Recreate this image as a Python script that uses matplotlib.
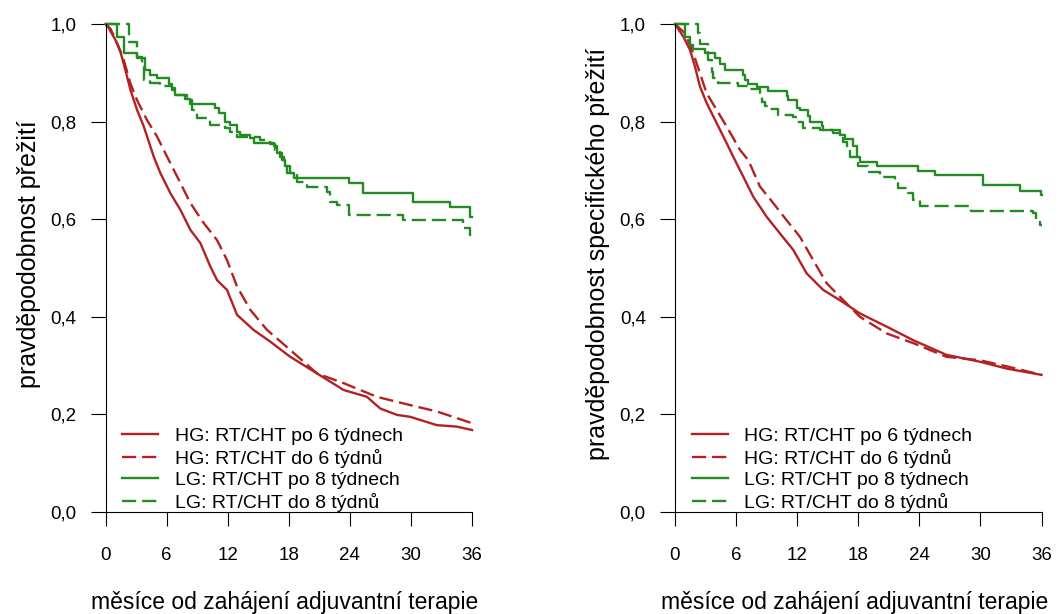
import numpy as np
import matplotlib.pyplot as plt

plt.rcParams['font.family'] = ['Liberation Sans', 'DejaVu Sans']

# months / survival
# left panel: overall survival
os_hg_po_t = [0, 0.16, 0.98, 1.47, 1.96, 2.45, 3.1, 3.76, 4.74, 5.4, 6.38, 7.36, 8.34, 9.32,
              10.3, 10.96, 11.94, 12.92, 14.55, 16.19, 18.15, 20.77, 23.39, 25.68, 26.99,
              28.63, 29.94, 32.55, 34.5, 36]
os_hg_po_s = [1, 0.998, 0.967, 0.943, 0.905, 0.865, 0.824, 0.79, 0.728, 0.694, 0.653, 0.619,
              0.578, 0.551, 0.503, 0.475, 0.455, 0.404, 0.373, 0.349, 0.318, 0.284, 0.25,
              0.236, 0.212, 0.199, 0.195, 0.178, 0.175, 0.168]
os_hg_do_t = [0, 0.5, 1.3, 1.8, 2.45, 3.1, 4.08, 5.07, 6.05, 7.36, 8.34, 9.65, 10.96, 11.94,
              12.92, 14.23, 15.87, 18.15, 20.77, 23.39, 26.66, 29.94, 32.55, 36]
os_hg_do_s = [1, 0.99, 0.953, 0.926, 0.878, 0.844, 0.803, 0.769, 0.728, 0.674, 0.633, 0.592,
              0.557, 0.516, 0.462, 0.414, 0.373, 0.332, 0.284, 0.264, 0.236, 0.219, 0.206,
              0.182]
os_lg_po_t = [0, 1.14, 1.8, 3.11, 3.92, 4.41, 5.07, 6.21, 6.54, 6.87, 7.85, 8.34, 10.79,
              11.12, 11.77, 12.26, 12.92, 13.24, 14.22, 14.55, 16.51, 16.84, 17.33, 17.66,
              17.82, 18.48, 23.87, 25.34, 30.25, 33.85, 35.81, 36]
os_lg_po_s = [1, 0.974, 0.94, 0.93, 0.906, 0.895, 0.889, 0.878, 0.868, 0.854, 0.846, 0.837,
              0.827, 0.817, 0.8, 0.793, 0.779, 0.773, 0.766, 0.757, 0.749, 0.735, 0.721,
              0.708, 0.694, 0.685, 0.675, 0.654, 0.636, 0.624, 0.605, 0.605]
os_lg_do_t = [0, 2.29, 3.11, 3.6, 3.76, 4.41, 5.4, 6.54, 6.7, 8.01, 8.5, 8.99, 10.3, 11.77,
              12.26, 12.92, 15.21, 16.19, 16.68, 17.17, 17.5, 18.15, 18.8, 19.78, 21.75,
              22.07, 22.73, 23.87, 29.27, 35.15, 35.81, 36]
os_lg_do_s = [1, 0.964, 0.933, 0.913, 0.885, 0.88, 0.872, 0.865, 0.855, 0.844, 0.824, 0.807,
              0.793, 0.786, 0.779, 0.769, 0.762, 0.755, 0.742, 0.728, 0.708, 0.694, 0.677,
              0.667, 0.656, 0.636, 0.629, 0.609, 0.598, 0.581, 0.568, 0.568]

# right panel: cancer specific survival
css_hg_po_t = [0, 0.82, 1.47, 1.96, 2.45, 3.11, 4.09, 5.07, 5.72, 6.71, 7.69, 9.0, 10.3,
               11.62, 12.93, 14.56, 16.2, 18.16, 20.78, 23.4, 26.67, 29.94, 32.56, 36]
css_hg_po_s = [1, 0.974, 0.947, 0.913, 0.872, 0.838, 0.797, 0.756, 0.728, 0.687, 0.646,
               0.605, 0.571, 0.537, 0.489, 0.455, 0.434, 0.407, 0.38, 0.352, 0.322, 0.308,
               0.294, 0.281]
css_hg_do_t = [0, 0.98, 1.8, 2.45, 3.11, 4.09, 5.07, 6.38, 7.2, 8.34, 9.65, 10.96, 12.27,
               13.58, 14.89, 16.2, 18.16, 20.78, 23.4, 26.67, 29.94, 32.89, 36]
css_hg_do_s = [1, 0.981, 0.94, 0.899, 0.858, 0.824, 0.79, 0.742, 0.721, 0.667, 0.633, 0.598,
               0.564, 0.516, 0.469, 0.441, 0.4, 0.366, 0.346, 0.318, 0.311, 0.297, 0.281]
css_lg_po_t = [0, 0.98, 1.47, 1.8, 2.95, 3.93, 4.42, 4.91, 6.71, 6.87, 7.2, 8.02, 9.16, 10.96,
               11.13, 11.94, 12.27, 13.09, 13.25, 14.4, 14.56, 16.2, 16.69, 17.51, 17.83,
               18.16, 19.8, 23.89, 25.52, 30.27, 33.87, 35.99, 36]
css_lg_po_s = [1, 0.974, 0.957, 0.948, 0.941, 0.93, 0.919, 0.906, 0.895, 0.885, 0.878, 0.87,
               0.863, 0.852, 0.844, 0.827, 0.824, 0.811, 0.8, 0.79, 0.783, 0.773, 0.764,
               0.749, 0.728, 0.718, 0.709, 0.699, 0.691, 0.67, 0.658, 0.65, 0.65]
css_lg_do_t = [0, 2.29, 2.45, 3.27, 3.6, 3.76, 4.25, 6.22, 7.2, 8.34, 8.51, 8.84, 9.16,
               10.14, 11.62, 11.94, 12.6, 14.23, 15.54, 16.52, 16.85, 17.18, 18.0, 18.98,
               20.12, 21.6, 21.92, 22.91, 23.4, 24.05, 29.12, 35.18, 35.5, 35.83, 36]
css_lg_do_s = [1, 0.981, 0.96, 0.926, 0.902, 0.889, 0.88, 0.872, 0.866, 0.855, 0.841, 0.831,
               0.825, 0.814, 0.809, 0.8, 0.786, 0.783, 0.776, 0.759, 0.749, 0.728, 0.708,
               0.697, 0.687, 0.677, 0.663, 0.653, 0.639, 0.627, 0.617, 0.612, 0.598, 0.588,
               0.588]

labels = ["HG: RT/CHT po 6 týdnech", "HG: RT/CHT do 6 týdnů",
          "LG: RT/CHT po 8 týdnech", "LG: RT/CHT do 8 týdnů"]
x_ticks = [0, 6, 12, 18, 24, 30, 36]
y_ticks = [0, 0.2, 0.4, 0.6, 0.8, 1.0]
y_ticklabels = ["0,0", "0,2", "0,4", "0,6", "0,8", "1,0"]

red = "#B22222"
green = "#228B22"
dash = (0, (6, 2.5))

fig = plt.figure(figsize=(10.6, 6.14), dpi=100)
ax1 = fig.add_axes([105.5 / 1060, 1 - 512 / 614, 366.5 / 1060, 488 / 614])
ax2 = fig.add_axes([675 / 1060, 1 - 512 / 614, 366.5 / 1060, 488 / 614])

panels = [
    (ax1, (os_hg_po_t, os_hg_po_s), (os_hg_do_t, os_hg_do_s),
     (os_lg_po_t, os_lg_po_s), (os_lg_do_t, os_lg_do_s), "pravděpodobnost přežití"),
    (ax2, (css_hg_po_t, css_hg_po_s), (css_hg_do_t, css_hg_do_s),
     (css_lg_po_t, css_lg_po_s), (css_lg_do_t, css_lg_do_s),
     "pravděpodobnost specifického přežití"),
]

for ax, hg_po, hg_do, lg_po, lg_do, ylab in panels:
    ax.plot(hg_po[0], hg_po[1], color=red, lw=1.7, label=labels[0], clip_on=False)
    ax.plot(hg_do[0], hg_do[1], color=red, lw=1.7, ls=dash, label=labels[1], clip_on=False)
    ax.plot(lg_po[0], lg_po[1], color=green, lw=1.7, drawstyle='steps-post',
            label=labels[2], clip_on=False)
    ax.plot(lg_do[0], lg_do[1], color=green, lw=1.7, ls=dash, drawstyle='steps-post',
            label=labels[3], clip_on=False)

    ax.set_xlim(0, 36)
    ax.set_ylim(0, 1)
    ax.spines['top'].set_visible(False)
    ax.spines['right'].set_visible(False)
    ax.spines['left'].set_linewidth(0.8)
    ax.spines['bottom'].set_linewidth(0.8)
    ax.set_xticks(x_ticks)
    ax.set_yticks(y_ticks)
    ax.set_yticklabels(y_ticklabels)
    ax.tick_params(axis='y', length=10.5, width=0.8, pad=10.5, labelsize=13.5)
    ax.tick_params(axis='x', length=10, width=0.8, pad=15.5, labelsize=13.5)

    ax.set_xlabel("měsíce od zahájení adjuvantní terapie", fontsize=16.5)
    ax.xaxis.set_label_coords(0.49, -0.186)
    ax.xaxis.label.set_va('center')
    ax.set_ylabel(ylab, fontsize=18)
    ax.yaxis.set_label_coords(-0.21, 0.529)
    ax.yaxis.label.set_va('center')

    ax.legend(loc='lower left', bbox_to_anchor=(0.046, 0.0), frameon=False, fontsize=14,
              handlelength=1.85, handletextpad=0.85, labelspacing=0.2, borderpad=0,
              borderaxespad=0)

fig.savefig("out.png", dpi=100)
